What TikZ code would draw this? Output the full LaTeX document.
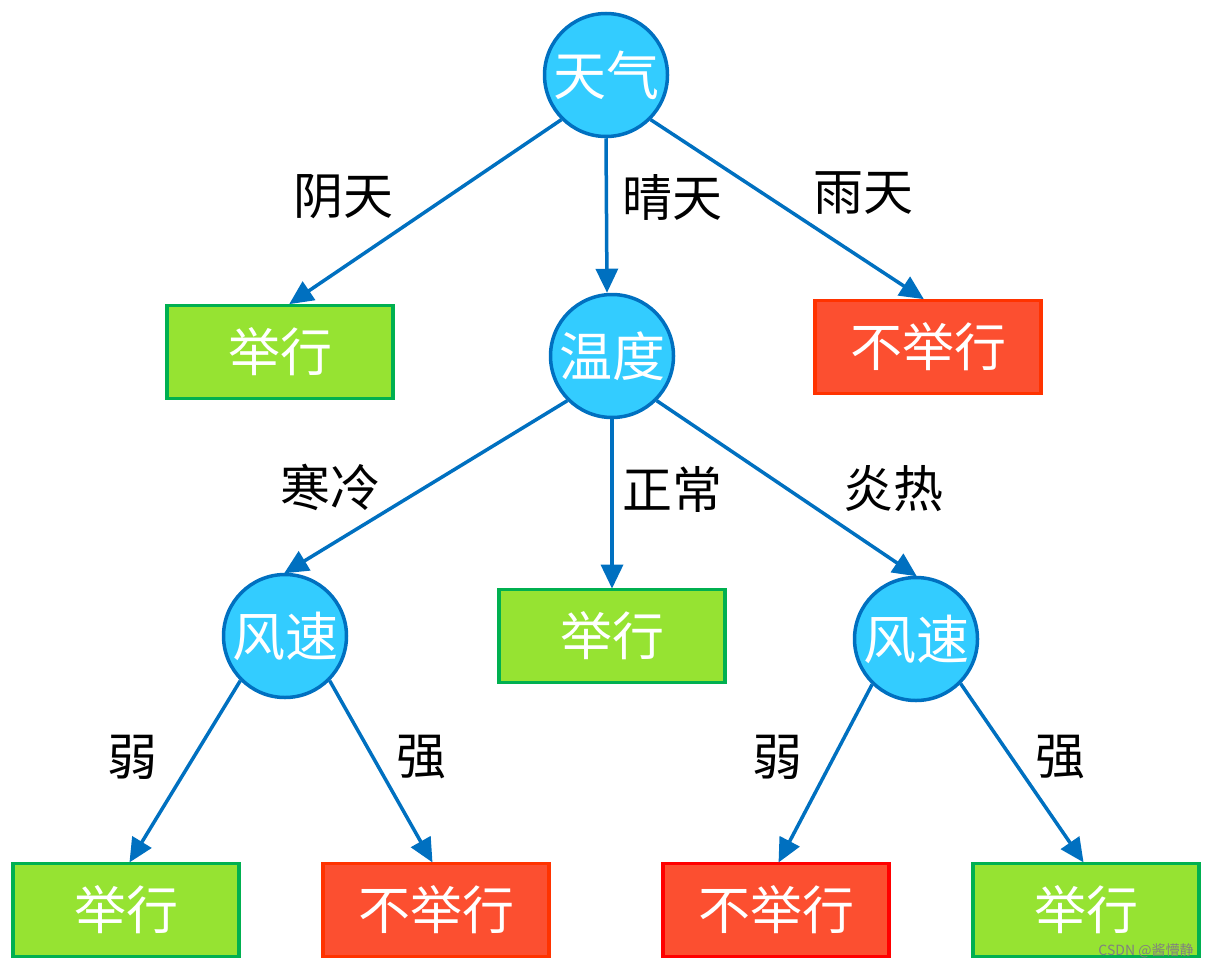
\documentclass[tikz,border=0pt]{standalone}
\usepackage{fontspec}
\newfontfamily\cjk{Noto Sans CJK SC}
\usetikzlibrary{arrows.meta}
\definecolor{circfill}{HTML}{33CCFF}
\definecolor{blueline}{HTML}{0070C0}
\definecolor{greenfill}{HTML}{96E332}
\definecolor{greenline}{HTML}{00B050}
\definecolor{redfill}{HTML}{FC4F30}
\definecolor{redline}{HTML}{FF3300}
\tikzset{
  decision/.style={circle, draw=blueline, fill=circfill, line width=3.5pt, minimum size=123pt, inner sep=0pt, text=white, font=\cjk\fontsize{53}{53}\selectfont},
  yesbox/.style={rectangle, draw=greenline, fill=greenfill, line width=3.8pt, minimum width=226pt, minimum height=93pt, inner sep=0pt, text=white, font=\cjk\fontsize{52}{52}\selectfont},
  nobox/.style={rectangle, draw=redline, fill=redfill, line width=3.8pt, minimum width=226pt, minimum height=93pt, inner sep=0pt, text=white, font=\cjk\fontsize{52}{52}\selectfont},
  edgelabel/.style={text=black, inner sep=0pt, font=\cjk\fontsize{50}{50}\selectfont},
  conn/.style={draw=blueline, line width=3.5pt, -{Triangle[length=24pt,width=22pt]}, shorten >=-1pt}
}
\begin{document}
\begin{tikzpicture}[x=1pt,y=-1pt]
\useasboundingbox (0,0) rectangle (1212,969);
% nodes
\node[decision] (tq) at (606,75) {天气};
\node[decision] (wd) at (612,356) {温度};
\node[decision] (fs1) at (285,636) {风速};
\node[decision] (fs2) at (916,639) {风速};
\node[yesbox] (jx1) at (280,352) {举行};
\node[nobox] (bjx1) at (928,347) {不举行};
\node[yesbox] (jx2) at (612,636) {举行};
\node[yesbox] (jx3) at (126,910) {举行};
\node[nobox] (bjx2) at (436,910) {不举行};
\node[nobox, draw=red] (bjx3) at (776,910) {不举行};
\node[yesbox] (jx4) at (1086,910) {举行};
% connectors
\draw[conn] (tq.225) -- ([xshift=10pt]jx1.north);
\draw[conn] (tq.south) -- ([xshift=-5pt,yshift=1pt]wd.north);
\draw[conn] (tq.315) -- ([xshift=-5pt]bjx1.north);
\draw[conn] (wd.225) -- (fs1.north);
\draw[conn] (wd.south) -- (jx2.north);
\draw[conn] (wd.315) -- (fs2.north);
\draw[conn] (fs1.225) -- ([xshift=4pt]jx3.north);
\draw[conn] (fs1.315) -- ([xshift=-4pt]bjx2.north);
\draw[conn] (fs2.226) -- ([xshift=3pt]bjx3.north);
\draw[conn] (fs2.315) -- ([xshift=-3pt]jx4.north);
% edge labels
\node[edgelabel] (l1) at (343,197) {阴天};
\node[edgelabel] (l2) at (672,197) {晴天};
\node[edgelabel] (l3) at (863,193) {雨天};
\node[edgelabel] (l4) at (330,487) {寒冷};
\node[edgelabel] (l5) at (672,489) {正常};
\node[edgelabel] (l6) at (893,489) {炎热};
\node[edgelabel] (l7) at (132,757) {弱};
\node[edgelabel] (l8) at (421,757) {强};
\node[edgelabel] (l9) at (777,757) {弱};
\node[edgelabel] (l10) at (1060,757) {强};
% watermark
\node[text=gray, inner sep=0pt, font=\cjk\fontsize{14}{14}\selectfont] (wm) at (1146,951) {CSDN @酱懵静};
\end{tikzpicture}
\end{document}
